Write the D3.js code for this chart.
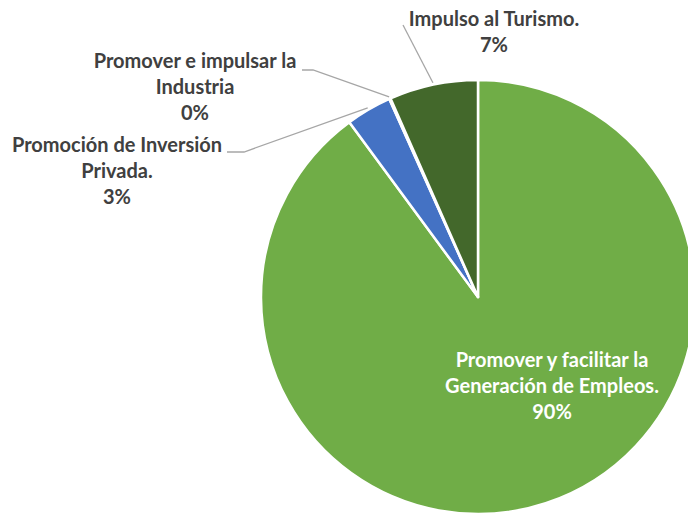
<!DOCTYPE html>
<html>
<head>
<meta charset="utf-8">
<script src="https://cdn.jsdelivr.net/npm/d3@7"></script>
<style>
  html, body { margin: 0; padding: 0; background: #fff; }
  svg { display: block; }
</style>
</head>
<body>
<div id="chart"></div>
<script>
// datos
var categorias = [
	["Promover y facilitar la", "Generación de Empleos."],
	["Promoción de Inversión", "Privada."],
	["Promover e impulsar la", "Industria"],
	["Impulso al Turismo."]
];
var valores = [89.9, 3.4, 0.1, 6.6];
var colores = ["#70AD47", "#4472C4", "#A5A5A5", "#43682B"];

var width = 688, height = 514;
var cx = 478, cy = 297, radio = 217;

// ubicacion de las etiquetas (x centro, y base de la primera linea, fin del texto para la guia)
var etiquetas = [
	{x: 552, y: 367, dentro: true},
	{x: 117, y: 152, guia: [227, 152, 244]},
	{x: 195, y: 68, guia: [302, 70, 313]},
	{x: 494, y: 26, guia: [403, 25, null]}
];

var svg = d3.select("#chart").append("svg")
	.attr("width", width)
	.attr("height", height);

var total = d3.sum(valores);
var pie = d3.pie().sort(null).value(function(d) { return d; });
var arcos = pie(valores);

var arc = d3.arc().innerRadius(0).outerRadius(radio);
var arcGuia = d3.arc().innerRadius(radio + 2).outerRadius(radio + 2);

var g = svg.append("g").attr("transform", "translate(" + cx + "," + cy + ")");

g.selectAll("path.slice")
	.data(arcos)
	.enter().append("path")
	.attr("class", "slice")
	.attr("d", arc)
	.attr("fill", function(d, i) { return colores[i]; })
	.attr("stroke", "#fff")
	.attr("stroke-width", 2.5)
	.attr("stroke-linejoin", "round");

//lineas guia
arcos.forEach(function(a, i) {
	var e = etiquetas[i];
	if (!e.guia) return;
	var c = arcGuia.centroid(a);
	var px = cx + c[0], py = cy + c[1];
	var pts = [[e.guia[0], e.guia[1]]];
	if (e.guia[2] !== null) pts.push([e.guia[2], e.guia[1]]);
	pts.push([px, py]);
	svg.append("path")
		.attr("d", d3.line()(pts))
		.attr("fill", "none")
		.attr("stroke", "#A6A6A6")
		.attr("stroke-width", 1.3);
});

//texto
var lineH = 26;
arcos.forEach(function(a, i) {
	var e = etiquetas[i];
	var lineas = categorias[i].concat([Math.round(a.value / total * 100) + "%"]);
	var t = svg.append("text")
		.attr("text-anchor", "middle")
		.attr("font-family", "Lato, 'Open Sans', sans-serif")
		.attr("font-weight", "bold")
		.attr("font-size", 20)
		.attr("fill", e.dentro ? "#ffffff" : "#404040");
	lineas.forEach(function(l, k) {
		t.append("tspan")
			.attr("x", e.x)
			.attr("y", e.y + k * lineH)
			.text(l);
	});
});
</script>
</body>
</html>
